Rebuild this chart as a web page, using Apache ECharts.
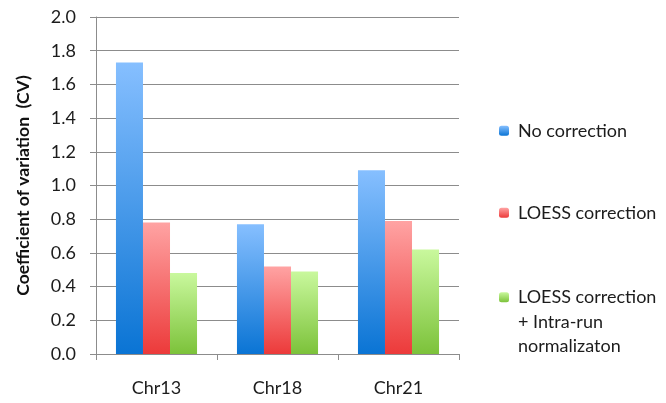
<!DOCTYPE html>
<html>
<head>
<meta charset="utf-8">
<script src="https://cdn.jsdelivr.net/npm/echarts@6/dist/echarts.min.js"></script>
<style>
  html, body { margin: 0; padding: 0; background: #fff; }
  #chart { width: 666px; height: 403px; }
</style>
</head>
<body>
<div id="chart"></div>
<script>
// Chromosomes on the x axis
const categories = ['Chr13', 'Chr18', 'Chr21'];

// Coefficient of variation per method
const noCorrection = [1.73, 0.77, 1.09];
const loessCorrection = [0.78, 0.52, 0.79];
const loessIntraRun = [0.48, 0.49, 0.62];

const seriesNames = [
  'No correction',
  'LOESS correction',
  'LOESS correction\n+ Intra-run\nnormalizaton'
];

// Y axis ticks
const yTicks = [0, 0.2, 0.4, 0.6, 0.8, 1.0, 1.2, 1.4, 1.6, 1.8, 2.0];

const FONT = 'Lato, "Open Sans", sans-serif';
const TEXT_COLOR = '#1c1c1c';

function vgrad(top, bottom) {
  return new echarts.graphic.LinearGradient(0, 0, 0, 1, [
    { offset: 0, color: top },
    { offset: 1, color: bottom }
  ]);
}

const colors = [
  vgrad('#86bfff', '#0a74d4'),
  vgrad('#ffa3a3', '#ec3a3a'),
  vgrad('#c9f89d', '#7cc23a')
];

// One legend block per series, stacked down the right side.
// Two leading blank lines keep the marker level with the first line of a
// three-line entry (legend text is centred on its marker).
function legendAt(name, top, leadBlank) {
  return {
    data: [name],
    orient: 'vertical',
    left: 499,
    top: top,
    itemWidth: 10,
    itemHeight: 10,
    itemGap: 0,
    padding: 0,
    selectedMode: false,
    formatter: leadBlank ? (n => '\n\n' + n) : (n => n),
    textStyle: {
      fontFamily: FONT,
      fontSize: 18,
      color: TEXT_COLOR,
      lineHeight: 24.5,
      padding: [0, 0, 0, 4]
    }
  };
}

const chart = echarts.init(document.getElementById('chart'), null, { renderer: 'canvas' });

chart.setOption({
  animation: false,
  backgroundColor: '#ffffff',
  grid: { left: 96, right: 207, top: 17, bottom: 49, containLabel: false },
  legend: [
    legendAt(seriesNames[0], 118.5, false),
    legendAt(seriesNames[1], 200.5, false),
    legendAt(seriesNames[2], 236, true)
  ],
  xAxis: {
    type: 'category',
    data: categories,
    axisLine: { lineStyle: { color: '#8c8c8c', width: 1 } },
    axisTick: { show: true, alignWithLabel: false, length: 6, lineStyle: { color: '#8c8c8c' } },
    axisLabel: { margin: 25, fontFamily: FONT, fontSize: 18, color: TEXT_COLOR }
  },
  yAxis: {
    type: 'value',
    min: yTicks[0],
    max: yTicks[yTicks.length - 1],
    interval: 0.2,
    name: 'Coefficient of variation  (CV)',
    nameLocation: 'middle',
    nameGap: 64,
    nameTextStyle: { fontFamily: FONT, fontSize: 17.5, fontWeight: 'bold', color: '#111' },
    axisLine: { show: true, lineStyle: { color: '#8c8c8c', width: 1 } },
    axisTick: { show: true, length: 6, lineStyle: { color: '#8c8c8c' } },
    axisLabel: {
      margin: 20,
      fontFamily: FONT,
      fontSize: 18,
      color: TEXT_COLOR,
      formatter: v => v.toFixed(1)
    },
    splitLine: { show: true, lineStyle: { color: '#8c8c8c', width: 1 } }
  },
  series: [
    { name: seriesNames[0], type: 'bar', data: noCorrection, itemStyle: { color: colors[0] }, barGap: '0%', barCategoryGap: '33%' },
    { name: seriesNames[1], type: 'bar', data: loessCorrection, itemStyle: { color: colors[1] }, barGap: '0%', barCategoryGap: '33%' },
    { name: seriesNames[2], type: 'bar', data: loessIntraRun, itemStyle: { color: colors[2] }, barGap: '0%', barCategoryGap: '33%' }
  ]
});
</script>
</body>
</html>
